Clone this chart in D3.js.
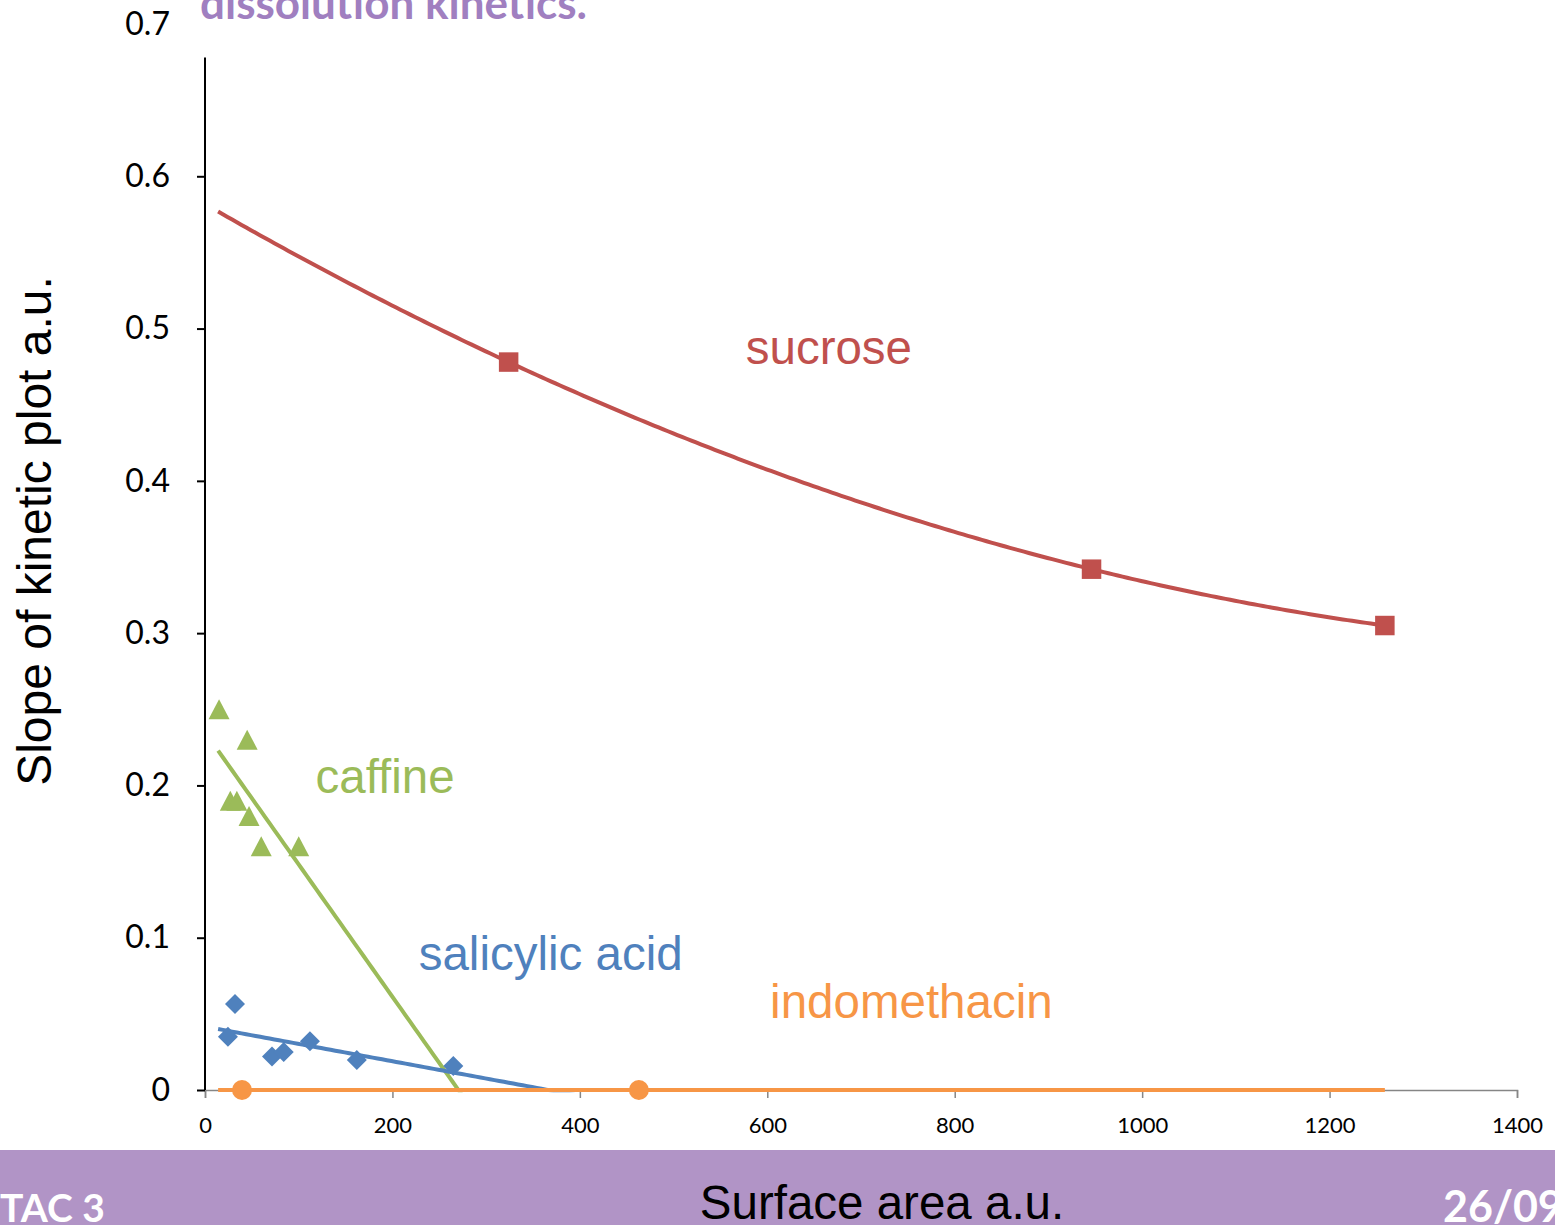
<!DOCTYPE html>
<html>
<head>
<meta charset="utf-8">
<script src="https://cdn.jsdelivr.net/npm/d3@7"></script>
<style>
  body { margin: 0; background: #fff; }
  svg { display: block; }
</style>
</head>
<body>
<svg id="canvas"></svg>
<script>
/* Chart data */
const sucrose = [[324, 0.478], [946, 0.342], [1259, 0.305]];
const caffine = [[15, 0.25], [45, 0.23], [27, 0.19], [34, 0.19], [47, 0.18], [60, 0.16], [100, 0.16]];
const salicylic = [[32, 0.0565], [24.5, 0.035], [71.5, 0.022], [84, 0.025], [112, 0.032], [162, 0.0197], [265, 0.0158]];
const indomethacin = [[39.5, 0], [463, 0]];
const trendRange = [14, 1259];

const xTicks = [0, 200, 400, 600, 800, 1000, 1200, 1400];
const yTicks = [0, 0.1, 0.2, 0.3, 0.4, 0.5, 0.6, 0.7];

const width = 1555, height = 1225;
const arial = "'Liberation Sans', Arial, sans-serif";
const calibri = "Lato, 'Open Sans', sans-serif";

const colors = {
    sucrose: "#c0504d",
    caffine: "#9bbb59",
    salicylic: "#4f81bd",
    indomethacin: "#f79646"
};

/* least squares line */
function linFit(pts) {
    const mx = d3.mean(pts, d => d[0]), my = d3.mean(pts, d => d[1]);
    const sxy = d3.sum(pts, d => (d[0] - mx) * (d[1] - my));
    const sxx = d3.sum(pts, d => (d[0] - mx) * (d[0] - mx));
    const b = sxx ? sxy / sxx : 0;
    return x => my + b * (x - mx);
}

/* quadratic through three points (divided differences) */
function quadFit(pts) {
    const p = pts.slice().sort((a, b) => a[0] - b[0]);
    const [x0, y0] = p[0], [x1, y1] = p[1], [x2, y2] = p[2];
    const s1 = (y1 - y0) / (x1 - x0);
    const s2 = (y2 - y1) / (x2 - x1);
    const a = (s2 - s1) / (x2 - x0);
    return x => y0 + s1 * (x - x0) + a * (x - x0) * (x - x1);
}

const svg = d3.select("#canvas")
    .attr("width", width)
    .attr("height", height)
    .style("background-color", "#fff");

const x = d3.scaleLinear().domain([0, 1400]).range([205, 1517]);
const y = d3.scaleLinear().domain([0, 0.7]).range([1090, 24]);

/* clip for trend lines (a little below zero so the flat line shows whole) */
svg.append("clipPath").attr("id", "plotClip")
    .append("rect")
    .attr("x", x(0)).attr("y", y(0.7))
    .attr("width", x(1400) - x(0)).attr("height", y(0) - y(0.7) + 2.2);

/* Title (cut off at top of slide) */
svg.append("text")
    .attr("x", 200).attr("y", 19)
    .attr("font-family", calibri)
    .attr("font-weight", "bold")
    .attr("font-size", 44)
    .attr("fill", "#a07fc0")
    .text("dissolution kinetics.");

/* X axis */
const xAxis = svg.append("g")
    .attr("transform", `translate(0,${y(0)})`)
    .call(d3.axisBottom(x).tickValues(xTicks).tickSize(8).tickPadding(19).tickFormat(d3.format("d")));
xAxis.select(".domain").attr("stroke", "#868686").attr("stroke-width", 1.5);
xAxis.selectAll(".tick line").attr("stroke", "#868686").attr("stroke-width", 1.5);
xAxis.selectAll(".tick text")
    .attr("font-family", calibri).attr("font-size", 22).attr("fill", "#000");

/* Y axis */
const yAxis = svg.append("g")
    .attr("transform", `translate(${x(0)},0)`)
    .call(d3.axisLeft(y).tickValues(yTicks).tickSize(8).tickPadding(27).tickFormat(d => d === 0 ? "0" : d3.format(".1f")(d)));
yAxis.select(".domain").remove();
yAxis.selectAll(".tick line").attr("stroke", "#000").attr("stroke-width", 2)
    .filter(d => d === 0.7).remove();
yAxis.selectAll(".tick text")
    .attr("font-family", calibri).attr("font-size", 32).attr("fill", "#000");
yAxis.append("line")
    .attr("x1", 0).attr("x2", 0)
    .attr("y1", y(0.678)).attr("y2", y(0))
    .attr("stroke", "#000").attr("stroke-width", 2);

/* Trend lines */
const trends = [
    { name: "caffine", f: linFit(caffine) },
    { name: "salicylic", f: linFit(salicylic) },
    { name: "indomethacin", f: linFit(indomethacin) },
    { name: "sucrose", f: quadFit(sucrose) }
];
const line = d3.line().x(d => x(d[0])).y(d => y(d[1]));
svg.append("g")
    .attr("clip-path", "url(#plotClip)")
    .selectAll("path")
    .data(trends)
    .enter()
    .append("path")
    .attr("d", t => line(d3.range(trendRange[0], trendRange[1] + 1, 5).map(v => [v, t.f(v)])))
    .attr("fill", "none")
    .attr("stroke", t => colors[t.name])
    .attr("stroke-width", 4);

/* Markers */
const series = [
    { name: "caffine", data: caffine, path: "M0,-10L10.5,10L-10.5,10Z" },
    { name: "salicylic", data: salicylic, path: "M0,-10L10,0L0,10L-10,0Z" },
    { name: "indomethacin", data: indomethacin, path: d3.symbol().type(d3.symbolCircle).size(314)() },
    { name: "sucrose", data: sucrose, path: d3.symbol().type(d3.symbolSquare).size(380)() }
];
series.forEach(s => {
    svg.append("g")
        .selectAll("path")
        .data(s.data)
        .enter()
        .append("path")
        .attr("d", s.path)
        .attr("transform", d => `translate(${x(d[0])},${y(d[1])})`)
        .attr("fill", colors[s.name]);
});

/* Series labels */
const labels = [
    { text: "sucrose", name: "sucrose", at: [577, 0.477] },
    { text: "caffine", name: "caffine", at: [118, 0.195] },
    { text: "salicylic acid", name: "salicylic", at: [228, 0.079] },
    { text: "indomethacin", name: "indomethacin", at: [603, 0.047] }
];
svg.append("g")
    .selectAll("text")
    .data(labels)
    .enter()
    .append("text")
    .attr("x", d => x(d.at[0]))
    .attr("y", d => y(d.at[1]))
    .attr("font-family", arial)
    .attr("font-size", 47.5)
    .attr("fill", d => colors[d.name])
    .text(d => d.text);

/* Y axis title */
svg.append("text")
    .attr("transform", "translate(51,531) rotate(-90)")
    .attr("text-anchor", "middle")
    .attr("font-family", arial)
    .attr("font-size", 48)
    .attr("fill", "#000")
    .text("Slope of kinetic plot a.u.");

/* Footer band */
svg.append("rect")
    .attr("x", 0).attr("y", 1150)
    .attr("width", width).attr("height", height - 1150)
    .attr("fill", "#b194c6");
svg.append("text")
    .attr("x", 0).attr("y", 1222)
    .attr("font-family", calibri).attr("font-weight", "bold")
    .attr("font-size", 39).attr("fill", "#fff")
    .text("TAC 3");
svg.append("text")
    .attr("x", 1443).attr("y", 1222)
    .attr("font-family", calibri).attr("font-weight", "bold")
    .attr("font-size", 43).attr("fill", "#fff")
    .text("26/09");
svg.append("text")
    .attr("x", 882).attr("y", 1219)
    .attr("text-anchor", "middle")
    .attr("font-family", arial)
    .attr("font-size", 47.5)
    .attr("fill", "#000")
    .text("Surface area a.u.");
</script>
</body>
</html>
